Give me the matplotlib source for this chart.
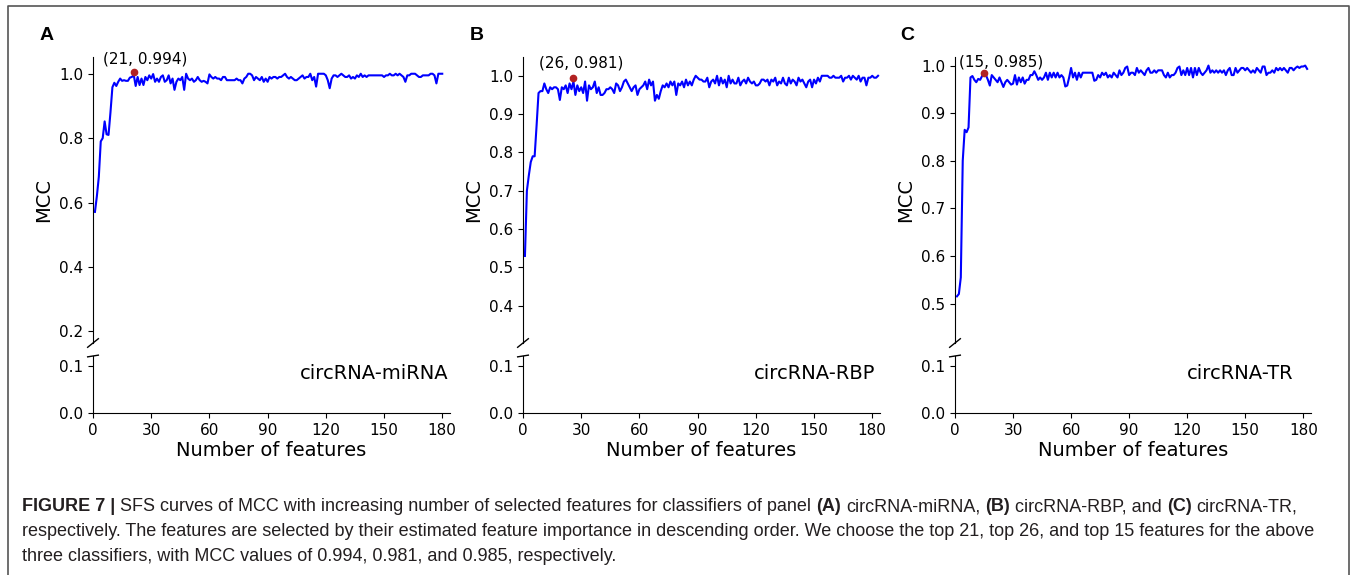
import numpy as np
import matplotlib
matplotlib.use("Agg")
import matplotlib.pyplot as plt
from matplotlib.lines import Line2D

# MCC values (feature count starts at 1)
mcc_mirna = [
    0.571, 0.62, 0.68, 0.79, 0.80, 0.852, 0.812, 0.810, 0.88, 0.958, 0.972, 0.962, 0.975, 0.985, 0.978,
    0.980, 0.978, 0.978, 0.988, 0.990, 0.996, 0.962, 0.990, 0.965, 0.985, 0.965, 0.990, 0.980, 0.995, 0.985,
    0.999, 0.975, 0.985, 0.975, 0.990, 0.995, 0.975, 0.980, 0.995, 0.970, 0.985, 0.950, 0.975, 0.985, 0.980,
    0.990, 0.950, 1.000, 0.985, 0.980, 0.985, 0.975, 0.980, 0.990, 0.980, 0.975, 0.978, 0.975, 0.970, 0.998,
    0.990, 0.985, 0.990, 0.985, 0.985, 0.980, 0.990, 0.990, 0.980, 0.980, 0.980, 0.980, 0.980, 0.985, 0.980,
    0.980, 0.970, 0.985, 0.990, 1.000, 1.000, 0.995, 0.980, 0.990, 0.985, 0.980, 0.990, 0.975, 0.985, 0.975,
    0.990, 0.985, 0.990, 0.990, 0.985, 0.990, 0.990, 0.995, 1.000, 0.990, 0.985, 0.990, 0.985, 0.980, 0.980,
    0.985, 0.990, 0.995, 0.985, 0.990, 0.990, 1.000, 0.980, 0.990, 0.960, 1.000, 1.000, 1.000, 1.000, 0.995,
    0.980, 0.955, 0.985, 0.995, 0.995, 0.990, 0.995, 1.000, 0.995, 0.990, 0.990, 0.995, 0.985, 0.990, 0.985,
    0.995, 0.990, 1.000, 0.990, 0.995, 0.990, 0.995, 0.995, 0.995, 0.995, 0.995, 0.995, 0.995, 0.995, 0.990,
    0.995, 0.995, 1.000, 0.995, 0.995, 1.000, 0.995, 1.000, 0.995, 0.990, 0.975, 0.995, 0.995, 1.000, 1.000,
    1.000, 0.995, 0.990, 0.990, 0.995, 0.995, 0.995, 0.995, 1.000, 1.000, 0.995, 0.970, 1.000, 1.000, 1.000,
]
mcc_rbp = [
    0.53, 0.70, 0.74, 0.775, 0.79, 0.79, 0.87, 0.955, 0.96, 0.96, 0.98, 0.965, 0.955, 0.97, 0.965,
    0.97, 0.97, 0.965, 0.937, 0.97, 0.965, 0.975, 0.955, 0.98, 0.965, 0.985, 0.95, 0.975, 0.96, 0.97,
    0.955, 0.985, 0.935, 0.975, 0.965, 0.97, 0.985, 0.955, 0.97, 0.95, 0.95, 0.955, 0.965, 0.965, 0.97,
    0.965, 0.955, 0.98, 0.975, 0.96, 0.97, 0.985, 0.99, 0.98, 0.97, 0.96, 0.97, 0.975, 0.95, 0.965,
    0.97, 0.975, 0.985, 0.965, 0.99, 0.975, 0.985, 0.935, 0.95, 0.94, 0.96, 0.975, 0.97, 0.98, 0.97,
    0.985, 0.975, 0.985, 0.95, 0.98, 0.975, 0.985, 0.97, 0.99, 0.975, 0.985, 0.975, 0.99, 1.0, 0.995,
    0.99, 0.99, 0.985, 0.985, 0.995, 0.97, 0.985, 0.99, 0.98, 1.0, 0.975, 0.995, 0.98, 0.99, 0.97,
    1.0, 0.98, 0.99, 0.98, 0.98, 0.995, 0.975, 0.985, 0.99, 0.98, 0.995, 0.985, 0.98, 0.985, 0.975,
    0.975, 0.98, 0.99, 0.99, 0.985, 0.99, 0.975, 0.99, 0.985, 0.995, 0.975, 0.985, 0.98, 0.995, 0.98,
    0.975, 0.995, 0.98, 0.99, 0.985, 0.975, 0.995, 0.985, 0.99, 0.98, 0.97, 0.985, 0.99, 0.97, 0.99,
    0.98, 0.995, 0.985, 1.0, 1.0, 1.0, 1.0, 0.995, 0.995, 1.0, 0.995, 0.995, 0.995, 1.0, 0.985,
    0.995, 0.995, 1.0, 0.99, 1.0, 0.995, 0.99, 1.0, 0.985, 0.995, 0.995, 0.975, 0.995, 0.995, 1.0,
    0.995, 0.995, 1.0,
]
mcc_tr = [
    0.515, 0.52, 0.555, 0.80, 0.865, 0.86, 0.87, 0.975, 0.978, 0.97, 0.965, 0.972, 0.97, 0.978, 0.985,
    0.98, 0.97, 0.958, 0.98, 0.975, 0.97, 0.965, 0.975, 0.965, 0.955, 0.965, 0.97, 0.965, 0.96, 0.962,
    0.98, 0.96, 0.975, 0.965, 0.975, 0.962, 0.97, 0.97, 0.98, 0.98, 0.988, 0.98, 0.97, 0.975, 0.97,
    0.975, 0.985, 0.97, 0.985, 0.975, 0.985, 0.975, 0.985, 0.975, 0.98, 0.975, 0.956, 0.958, 0.975, 0.995,
    0.975, 0.985, 0.97, 0.985, 0.975, 0.985, 0.985, 0.985, 0.985, 0.985, 0.985, 0.968, 0.97, 0.98, 0.975,
    0.985, 0.98, 0.985, 0.975, 0.98, 0.975, 0.985, 0.98, 0.975, 0.99, 0.98, 0.985, 0.995, 0.998, 0.98,
    0.985, 0.985, 0.98, 0.995, 0.985, 0.99, 0.985, 0.98, 0.99, 0.995, 0.985, 0.985, 0.99, 0.985, 0.99,
    0.99, 0.99, 0.98, 0.975, 0.985, 0.975, 0.98, 0.98, 0.985, 0.995, 0.998, 0.98, 0.99, 0.98, 0.995,
    0.98, 0.995, 0.975, 0.995, 0.98, 0.995, 0.985, 0.98, 0.985, 0.99, 1.0, 0.985, 0.99, 0.985, 0.99,
    0.985, 0.99, 0.985, 0.99, 0.98, 0.99, 0.995, 0.98, 0.98, 0.995, 0.985, 0.99, 0.995, 0.995, 0.99,
    0.995, 0.99, 0.985, 0.99, 0.985, 0.995, 0.99, 0.985, 0.998, 0.998, 0.98, 0.985, 0.985, 0.99, 0.985,
    0.995, 0.99, 0.995, 0.99, 0.995, 0.99, 0.985, 0.995, 0.995, 0.99, 0.995, 0.998, 0.995, 0.998, 0.998,
    1.0, 0.993,
]

panel_letters = ["A", "B", "C"]
panel_names = ["circRNA-miRNA", "circRNA-RBP", "circRNA-TR"]
best_n = [21, 26, 15]
best_mcc = ["0.994", "0.981", "0.985"]
best_dot_y = [1.006, 0.994, 0.985]   # where the red dot sits on the plot
top_ylim = [(0.164, 1.052), (0.303, 1.049), (0.417, 1.018)]
top_yticks = [[0.2, 0.4, 0.6, 0.8, 1.0],
              [0.4, 0.5, 0.6, 0.7, 0.8, 0.9, 1.0],
              [0.5, 0.6, 0.7, 0.8, 0.9, 1.0]]
x_ticks = [0, 30, 60, 90, 120, 150, 180]

W, H = 1357, 575
fig = plt.figure(figsize=(W / 100, H / 100), dpi=100)


def box(l, t, r, b):
    return [l / W, 1 - b / H, (r - l) / W, (b - t) / H]


lefts = [93, 523, 955]
rights = [450, 880, 1311]
label_offsets = [(11, 13), (8, 15), (17, 11)]
name_x = [183, 181.5, 175]
letter_x = [40, 470, 900]

for i, y in enumerate([mcc_mirna, mcc_rbp, mcc_tr]):
    x = np.arange(1, len(y) + 1)
    ax = fig.add_axes(box(lefts[i], 57, rights[i], 343))
    ax2 = fig.add_axes(box(lefts[i], 356, rights[i], 413))

    ax.plot(x, y, color="#0000ff", lw=1.5)
    ax.plot([best_n[i]], [best_dot_y[i]], "o", color="#b22222", ms=4.5)
    ax.annotate("(%d, %s)" % (best_n[i], best_mcc[i]), (best_n[i], best_dot_y[i]),
                xytext=label_offsets[i], textcoords="offset pixels",
                ha="center", va="center", fontsize=11)

    ax.set_xlim(0, 184)
    ax.set_ylim(*top_ylim[i])
    ax.set_yticks(top_yticks[i])
    for s in ["top", "right", "bottom"]:
        ax.spines[s].set_visible(False)
    ax.tick_params(bottom=False, labelbottom=False, labelsize=11)
    ax.set_ylabel("MCC", fontsize=14)

    ax2.set_xlim(0, 184)
    ax2.set_ylim(0, 0.12)
    ax2.set_yticks([0.0, 0.1])
    ax2.set_xticks(x_ticks)
    for s in ["top", "right"]:
        ax2.spines[s].set_visible(False)
    ax2.tick_params(labelsize=11)
    ax2.set_xlabel("Number of features", fontsize=14, labelpad=2)
    ax2.text(name_x[i], 0.083, panel_names[i], ha="right", va="center", fontsize=14)

    # broken-axis marks
    d = 0.015
    ax.plot((-d, d), (-d, d), transform=ax.transAxes, color="k", lw=1, clip_on=False)
    ax2.plot((-d, d), (1 - d, 1 + d), transform=ax2.transAxes, color="k", lw=1, clip_on=False)

    fig.text(letter_x[i] / W, 1 - 35 / H, panel_letters[i], fontsize=14,
             fontweight="bold", family="Liberation Sans", va="center")

# frame around figure + caption
frame = dict(color="#555555", lw=1.2, transform=None)
fig.add_artist(Line2D([8, 8, 1349, 1349], [0, H - 6, H - 6, 0], **frame))

# caption in mixed weights
cap_family = ["Liberation Sans", "DejaVu Sans"]
cap_size = 13
cap_color = "#231f20"
caption = [
    [("FIGURE 7 |", True),
     ("SFS curves of MCC with increasing number of selected features for classifiers of panel", False),
     ("(A)", True), ("circRNA-miRNA,", False), ("(B)", True), ("circRNA-RBP, and", False),
     ("(C)", True), ("circRNA-TR,", False)],
    [("respectively. The features are selected by their estimated feature importance in descending "
      "order. We choose the top 21, top 26, and top 15 features for the above", False)],
    [("three classifiers, with MCC values of 0.994, 0.981, and 0.985, respectively.", False)],
]
baselines = [511, 536, 561]

renderer = fig.canvas.get_renderer()


def width_of(s, bold=False):
    t = fig.text(0, 0, s, fontsize=cap_size, family=cap_family,
                 fontweight="bold" if bold else "normal")
    w = t.get_window_extent(renderer).width
    t.remove()
    return w


space_w = width_of("a a") - width_of("aa")

for runs, yb in zip(caption, baselines):
    xp = 22
    for txt, bold in runs:
        t = fig.text(xp / W, 1 - yb / H, txt, fontsize=cap_size, family=cap_family,
                     fontweight="bold" if bold else "normal", color=cap_color, va="baseline")
        xp += t.get_window_extent(renderer).width + space_w

fig.savefig("out.png", dpi=100)
